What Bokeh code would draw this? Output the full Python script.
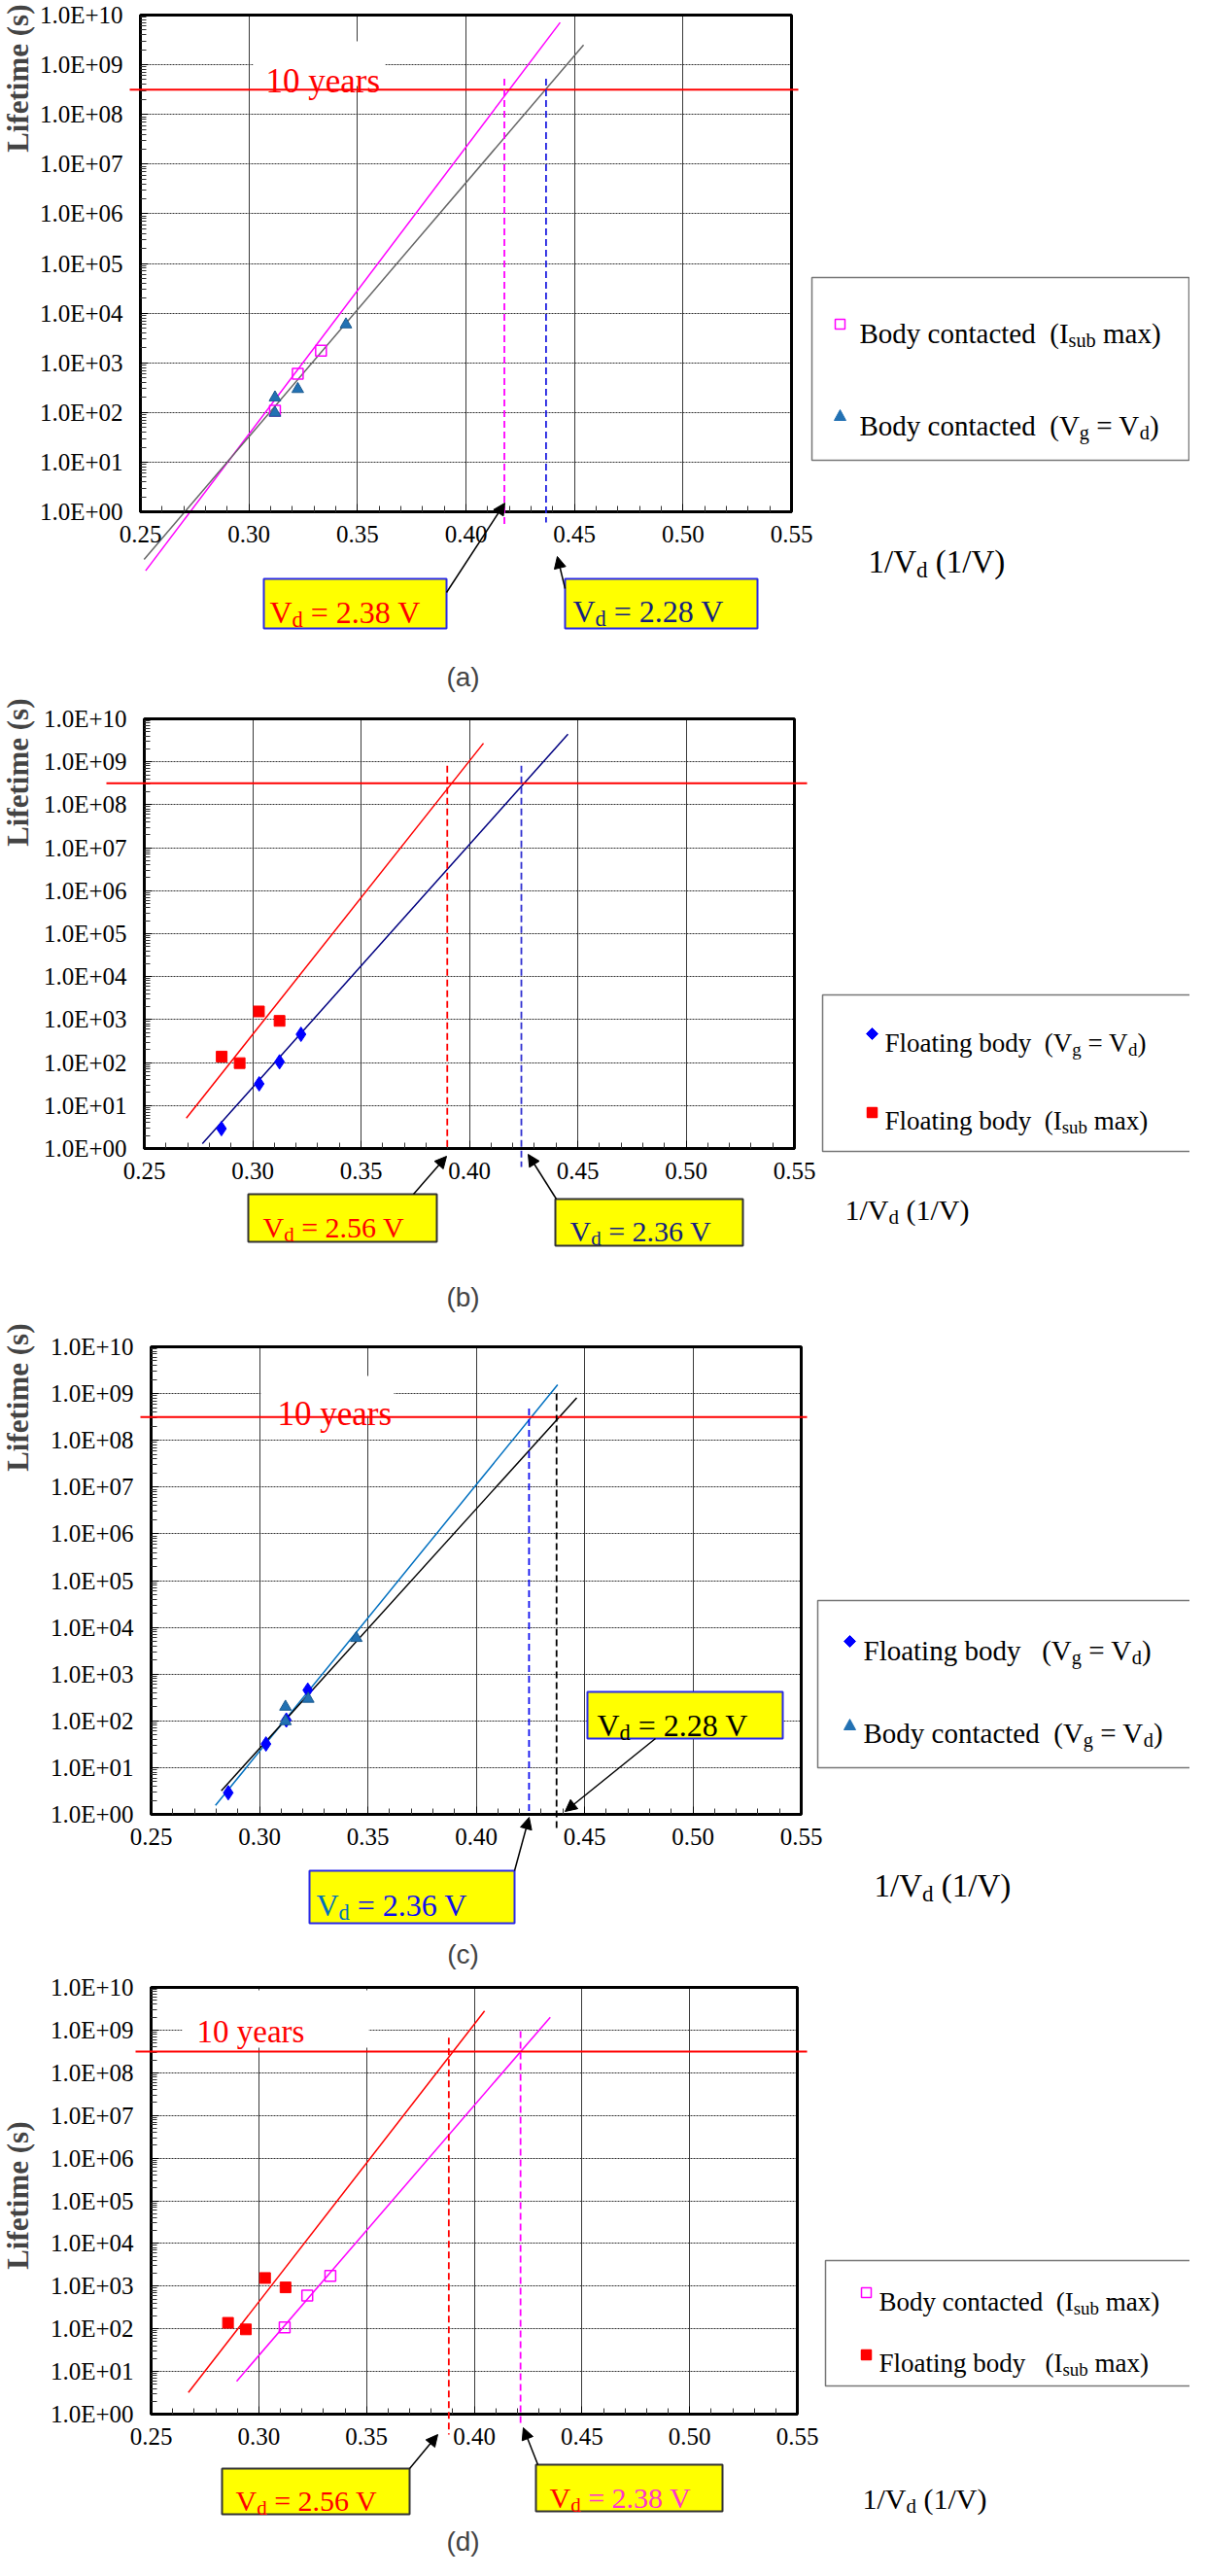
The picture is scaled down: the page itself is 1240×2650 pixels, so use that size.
import math
import re

from bokeh.plotting import figure
from bokeh.layouts import column
from bokeh.models import (Label, Arrow, NormalHead, BoxAnnotation, PolyAnnotation, Grid,
                          LinearAxis, LogAxis, FixedTicker, PrintfTickFormatter)
from bokeh.embed import file_html
from bokeh.resources import INLINE

SERIF = "Liberation Serif"
SANS = "Liberation Sans"

# ---- values: x = 1/Vd (1/V), y = lifetime (s)
BC_ISUB_X = [0.3120, 0.3225, 0.3332]          # body contacted, Isub max
BC_ISUB_Y = [108, 600, 1750]
BC_VG_X = [0.3120, 0.3120, 0.3225, 0.3447]    # body contacted, Vg = Vd
BC_VG_Y = [200, 98, 295, 5900]
FB_VG_X = [0.2856, 0.3030, 0.3124, 0.3223]    # floating body, Vg = Vd
FB_VG_Y = [2.9, 32, 104, 455]
FB_ISUB_X = [0.2857, 0.2940, 0.3029, 0.3124]  # floating body, Isub max
FB_ISUB_Y = [138, 97, 1550, 935]

# extrapolated fit lines as drawn in each panel (end points)
FIT_A_BC_ISUB_X = [0.2524, 0.4434]
FIT_A_BC_ISUB_Y = [0.065, 7.1e9]
FIT_A_BC_VG_X = [0.2517, 0.4542]
FIT_A_BC_VG_Y = [0.11, 2.5e9]
FIT_B_FB_ISUB_X = [0.2694, 0.4065]
FIT_B_FB_ISUB_Y = [5.1, 2.7e9]
FIT_B_FB_VG_X = [0.2768, 0.4455]
FIT_B_FB_VG_Y = [1.3, 4.4e9]
FIT_C_FB_VG_X = [0.2797, 0.4376]
FIT_C_FB_VG_Y = [1.55, 1.55e9]
FIT_C_BC_VG_X = [0.2824, 0.4464]
FIT_C_BC_VG_Y = [3.2, 8.1e8]
FIT_D_FB_ISUB_X = [0.2673, 0.4048]
FIT_D_FB_ISUB_Y = [3.2, 2.8e9]
FIT_D_BC_ISUB_X = [0.2897, 0.4353]
FIT_D_BC_ISUB_Y = [5.9, 2.0e9]

TEN_YEARS = 3.15e8  # s
# 1/Vd where the fits reach ten years (dashed markers) and the labels
CROSS_A = [0.4177, 0.4369]
CROSS_B = [0.3898, 0.4240]
CROSS_C = [0.4244, 0.4371]
CROSS_D = [0.3882, 0.4215]
CROSS_TOP_A = [5.2e8, 5.2e8]
CROSS_TOP_B = [8.1e8, 8.1e8]
CROSS_TOP_C = [4.8e8, 1.0e9]
CROSS_TOP_D = [6.6e8, 9.5e8]
VD_A = ["2.38", "2.28"]
VD_B = ["2.56", "2.36"]
VD_C = ["2.36", "2.28"]
VD_D = ["2.56", "2.38"]

X_TICKS = [0.25, 0.30, 0.35, 0.40, 0.45, 0.50, 0.55]
X_MINOR = [0.26, 0.27, 0.28, 0.29, 0.31, 0.32, 0.33, 0.34, 0.36, 0.37, 0.38, 0.39,
           0.41, 0.42, 0.43, 0.44, 0.46, 0.47, 0.48, 0.49, 0.51, 0.52, 0.53, 0.54]
Y_TICKS = [1e0, 1e1, 1e2, 1e3, 1e4, 1e5, 1e6, 1e7, 1e8, 1e9, 1e10]
Y_TICK_LABELS = ["1.0E+00", "1.0E+01", "1.0E+02", "1.0E+03", "1.0E+04", "1.0E+05",
                 "1.0E+06", "1.0E+07", "1.0E+08", "1.0E+09", "1.0E+10"]
Y_MINOR = [k * 10.0 ** n for n in range(10) for k in range(2, 10)]

# Times advance widths (per 1000 em) for placing sub-scripted pieces
TIMES_W = {" ": 250, "(": 333, ")": 333, "/": 278, "=": 564, ".": 250,
           "B": 667, "F": 556, "I": 333, "V": 722,
           "a": 444, "b": 500, "c": 444, "d": 500, "e": 444, "g": 500, "i": 278,
           "l": 278, "m": 778, "n": 500, "o": 500, "s": 389, "t": 278, "u": 500,
           "x": 500, "y": 500}


def tw(s, size):
    return sum(TIMES_W.get(c, 500) for c in s) * size / 1000.0


# page pixel -> data, from where the plot box of each panel sits on the page
def px_x(g, px):
    return 0.25 + (px - g["L"]) * 0.30 / (g["R"] - g["L"])


def px_y(g, py):
    return 10 ** (10 - (py - g["T"]) * 10.0 / (g["B"] - g["T"]))


def base(g):
    # the frame fills the whole panel; axes are pinned to the plot box
    p = figure(width=1224, height=g["bottom"] - g["top"],
               x_range=(px_x(g, 8), px_x(g, 1232)),
               y_range=(px_y(g, g["bottom"]), px_y(g, g["top"])),
               y_axis_type="log", x_axis_location=None, y_axis_location=None,
               min_border=0, output_backend="svg", toolbar_location=None)
    p.outline_line_color = None
    for gr in p.grid:
        gr.visible = False
    xt = FixedTicker(ticks=X_TICKS, minor_ticks=X_MINOR)
    yt = FixedTicker(ticks=Y_TICKS, minor_ticks=Y_MINOR)
    p.add_layout(Grid(dimension=0, ticker=xt, bounds=(0.25, 0.55), cross_bounds=(1, 1e10),
                      grid_line_color="#3a3a3a", grid_line_width=1))
    p.add_layout(Grid(dimension=1, ticker=yt, bounds=(1, 1e10), cross_bounds=(0.25, 0.55),
                      grid_line_color="#333333", grid_line_width=1.2, grid_line_dash="2 1"))
    xa = LinearAxis(ticker=xt, formatter=PrintfTickFormatter(format="%.2f"),
                    fixed_location=1, bounds=(0.25, 0.55))
    ya = LogAxis(ticker=yt, fixed_location=0.25, bounds=(1, 1e10),
                 major_label_overrides=dict(zip(Y_TICKS, Y_TICK_LABELS)))
    for ax in (xa, ya):
        ax.axis_line_width = 3
        ax.axis_line_color = "black"
        ax.major_tick_out = 0
        ax.major_tick_in = 8
        ax.minor_tick_out = 0
        ax.minor_tick_in = 6
        ax.major_tick_line_color = "black"
        ax.minor_tick_line_color = "#333333"
        ax.major_label_text_font = SERIF
        ax.major_label_text_color = "black"
    xa.major_label_text_font_size = "25px"
    ya.major_label_text_font_size = "25px"
    xa.major_label_standoff = 14
    ya.major_label_standoff = 18
    p.add_layout(xa, "below")
    p.add_layout(ya, "left")
    p.quad(left=[0.25], right=[0.55], bottom=[1], top=[1e10], fill_color=None,
           line_color="black", line_width=3)
    return p


def rich(p, g, x, baseline, pieces, size):
    for txt, sub, color in pieces:
        fs = size * 0.7 if sub else size
        yb = baseline + (size * 0.25 if sub else 0)
        for m in re.finditer(r"\S+(?: \S+)*| +", txt):
            s = m.group(0)
            if s.strip():
                p.add_layout(Label(x=px_x(g, x), y=px_y(g, yb), text=s, text_font=SERIF,
                                   text_font_size="%.1fpx" % fs, text_color=color,
                                   text_baseline="alphabetic", text_align="left"))
            x += tw(s, fs)


def frame_text(p, g, title_x, title_base, title_size, life_top, tag, tag_y):
    rich(p, g, title_x, title_base,
         [("1/V", False, "black"), ("d", True, "black"), (" (1/V)", False, "black")], title_size)
    p.add_layout(Label(x=px_x(g, 43), y=px_y(g, life_top), text="Lifetime (s)",
                       angle=math.pi / 2, text_align="right", text_baseline="bottom",
                       text_font=SERIF, text_font_style="bold", text_font_size="31px"))
    p.add_layout(Label(x=px_x(g, 484), y=px_y(g, tag_y), text=tag, text_align="center",
                       text_baseline="middle", text_font=SANS, text_font_size="28px"))


def ten_years(p, g, x0, x1, box=None, text_at=None, size=35):
    if box is not None:
        p.add_layout(BoxAnnotation(left=px_x(g, box[0]), right=px_x(g, box[2]),
                                   top=px_y(g, box[1]), bottom=px_y(g, box[3]),
                                   fill_color="white", fill_alpha=1, line_color=None))
    p.add_layout(Arrow(end=None, x_start=px_x(g, x0), y_start=TEN_YEARS,
                       x_end=px_x(g, x1), y_end=TEN_YEARS, line_color="red", line_width=2))
    if text_at is not None:
        p.add_layout(Label(x=px_x(g, text_at[0]), y=px_y(g, text_at[1]), text="10 years",
                           text_font=SERIF, text_font_size="%dpx" % size, text_color="red",
                           text_baseline="alphabetic"))


def dashed(p, g, x, y_top, py_bottom, color):
    p.add_layout(Arrow(end=None, x_start=x, y_start=y_top, x_end=x, y_end=px_y(g, py_bottom),
                       line_color=color, line_width=1.8, line_dash="7 4"))


def vd_box(p, g, rect, border, tx, tb, size, vd, c_v, c_rest):
    p.add_layout(BoxAnnotation(left=px_x(g, rect[0]), right=px_x(g, rect[2]),
                               top=px_y(g, rect[1]), bottom=px_y(g, rect[3]),
                               fill_color="#FFFF00", fill_alpha=1,
                               line_color=border, line_width=2, line_alpha=1))
    rich(p, g, tx, tb, [("V", False, c_v), ("d", True, c_v), (" = %s V" % vd, False, c_rest)], size)


def pointer(p, g, x0, y0, x1, y1):
    p.add_layout(Arrow(end=NormalHead(size=12, fill_color="black", line_color="black", line_width=1),
                       x_start=px_x(g, x0), y_start=px_y(g, y0),
                       x_end=px_x(g, x1), y_end=px_y(g, y1),
                       line_color="black", line_width=1.5))


def legend_frame(p, g, rect):
    p.add_layout(BoxAnnotation(left=px_x(g, rect[0]), right=px_x(g, rect[2]),
                               top=px_y(g, rect[1]), bottom=px_y(g, rect[3]),
                               fill_color="white", fill_alpha=1,
                               line_color="#777777", line_width=1.5, line_alpha=1))


def key(p, g, kind, cx, cy):
    if kind in ("open", "red"):
        h = 5
        p.add_layout(BoxAnnotation(left=px_x(g, cx - h), right=px_x(g, cx + h),
                                   top=px_y(g, cy - h), bottom=px_y(g, cy + h),
                                   fill_color="red" if kind == "red" else "white", fill_alpha=1,
                                   line_color="red" if kind == "red" else "magenta",
                                   line_width=1.5, line_alpha=1))
        return
    if kind == "tri":
        pts = [(cx - 6, cy + 5), (cx + 6, cy + 5), (cx, cy - 6)]
        col = "#2271B3"
    else:
        pts = [(cx, cy - 6), (cx + 6, cy), (cx, cy + 6), (cx - 6, cy)]
        col = "#0000FF"
    p.add_layout(PolyAnnotation(xs=[px_x(g, a) for a, b in pts], ys=[px_y(g, b) for a, b in pts],
                                fill_color=col, fill_alpha=1, line_color=col, line_alpha=1))


def bc_isub(p):
    p.scatter(BC_ISUB_X, BC_ISUB_Y, marker="square", size=11, fill_color=None,
              line_color="magenta", line_width=1.5)


def bc_vg(p):
    p.scatter(BC_VG_X, BC_VG_Y, marker="triangle", size=12, fill_color="#2271B3",
              line_color="#1a5a8f", line_width=1)


def fb_vg(p):
    p.scatter(FB_VG_X, FB_VG_Y, marker="diamond", size=15, fill_color="#0000FF",
              line_color="#0000FF")


def fb_isub(p):
    p.scatter(FB_ISUB_X, FB_ISUB_Y, marker="square", size=11, fill_color="red",
              line_color="red")


NAVY = "#141E82"
BLACK = "black"

# ---------------- panel (a)
ga = dict(top=8, bottom=724, L=152, R=822, T=23, B=534)
pa = base(ga)
pa.line(FIT_A_BC_ISUB_X, FIT_A_BC_ISUB_Y, line_color="magenta", line_width=1.5)
pa.line(FIT_A_BC_VG_X, FIT_A_BC_VG_Y, line_color="#666666", line_width=1.5)
bc_isub(pa)
bc_vg(pa)
ten_years(pa, ga, 141, 829, box=(268, 50, 404, 96), text_at=(281, 91), size=35)
dashed(pa, ga, CROSS_A[0], CROSS_TOP_A[0], 550, "magenta")
dashed(pa, ga, CROSS_A[1], CROSS_TOP_A[1], 545, "#2020E0")
vd_box(pa, ga, (279, 603, 467, 654), "#2a2ae6", 285, 637, 32, VD_A[0], "red", "red")
vd_box(pa, ga, (589, 603, 787, 654), "#2a2ae6", 597, 636, 32, VD_A[1], NAVY, NAVY)
pointer(pa, ga, 467, 617, 527, 525)
pointer(pa, ga, 589, 613, 581, 580)
legend_frame(pa, ga, (843, 293, 1231, 481))
key(pa, ga, "open", 872, 341)
rich(pa, ga, 892, 350, [("Body contacted  (I", False, BLACK), ("sub", True, BLACK),
                        (" max)", False, BLACK)], 29)
key(pa, ga, "tri", 872, 435)
rich(pa, ga, 892, 445, [("Body contacted  (V", False, BLACK), ("g", True, BLACK),
                        (" = V", False, BLACK), ("d", True, BLACK), (")", False, BLACK)], 29)
frame_text(pa, ga, 901, 585, 33, 12, "(a)", 704)

# ---------------- panel (b)
gb = dict(top=724, bottom=1366, L=156, R=825, T=747, B=1189)
pb = base(gb)
pb.line(FIT_B_FB_ISUB_X, FIT_B_FB_ISUB_Y, line_color="red", line_width=1.5)
pb.line(FIT_B_FB_VG_X, FIT_B_FB_VG_Y, line_color="#000080", line_width=1.5)
fb_isub(pb)
fb_vg(pb)
ten_years(pb, gb, 117, 838)
dashed(pb, gb, CROSS_B[0], CROSS_TOP_B[0], 1189, "red")
dashed(pb, gb, CROSS_B[1], CROSS_TOP_B[1], 1208, "#3030D0")
vd_box(pb, gb, (263, 1236, 457, 1285), "#333333", 278, 1270, 30, VD_B[0], "red", "red")
vd_box(pb, gb, (579, 1241, 772, 1289), "#333333", 594, 1274, 30, VD_B[1], NAVY, NAVY)
pointer(pb, gb, 433, 1236, 467, 1197)
pointer(pb, gb, 580, 1241, 551, 1195)
legend_frame(pb, gb, (854, 1031, 1237, 1192))
key(pb, gb, "dia", 905, 1071)
rich(pb, gb, 918, 1080, [("Floating body  (V", False, BLACK), ("g", True, BLACK),
                         (" = V", False, BLACK), ("d", True, BLACK), (")", False, BLACK)], 27)
key(pb, gb, "red", 905, 1152)
rich(pb, gb, 918, 1160, [("Floating body  (I", False, BLACK), ("sub", True, BLACK),
                         (" max)", False, BLACK)], 27)
frame_text(pb, gb, 877, 1252, 30, 726, "(b)", 1342)

# ---------------- panel (c)
gc = dict(top=1366, bottom=2036, L=163, R=832, T=1393, B=1874)
pc = base(gc)
pc.line(FIT_C_FB_VG_X, FIT_C_FB_VG_Y, line_color="#0070C0", line_width=1.5)
pc.line(FIT_C_BC_VG_X, FIT_C_BC_VG_Y, line_color="black", line_width=1.5)
fb_vg(pc)
bc_vg(pc)
ten_years(pc, gc, 152, 838, box=(276, 1423, 413, 1464), text_at=(293, 1462), size=35)
dashed(pc, gc, CROSS_C[0], CROSS_TOP_C[0], 1874, "#1010EE")
dashed(pc, gc, CROSS_C[1], CROSS_TOP_C[1], 1892, "black")
vd_box(pc, gc, (326, 1932, 537, 1986), "#2a2ae6", 333, 1967, 32, VD_C[0], "#0070C0", "#1010EE")
vd_box(pc, gc, (612, 1748, 813, 1796), "#2a2ae6", 622, 1782, 32, VD_C[1], BLACK, BLACK)
pointer(pc, gc, 537, 1932, 552, 1877)
pointer(pc, gc, 682, 1796, 589, 1871)
legend_frame(pc, gc, (849, 1654, 1237, 1826))
key(pc, gc, "dia", 882, 1696)
rich(pc, gc, 896, 1705, [("Floating body   (V", False, BLACK), ("g", True, BLACK),
                         (" = V", False, BLACK), ("d", True, BLACK), (")", False, BLACK)], 29)
key(pc, gc, "tri", 882, 1782)
rich(pc, gc, 896, 1790, [("Body contacted  (V", False, BLACK), ("g", True, BLACK),
                         (" = V", False, BLACK), ("d", True, BLACK), (")", False, BLACK)], 29)
frame_text(pc, gc, 907, 1947, 33, 1369, "(c)", 2018)

# ---------------- panel (d)
gd = dict(top=2036, bottom=2642, L=163, R=828, T=2052, B=2491)
pd_ = base(gd)
pd_.line(FIT_D_FB_ISUB_X, FIT_D_FB_ISUB_Y, line_color="red", line_width=1.5)
pd_.line(FIT_D_BC_ISUB_X, FIT_D_BC_ISUB_Y, line_color="magenta", line_width=1.5)
fb_isub(pd_)
bc_isub(pd_)
ten_years(pd_, gd, 147, 838, box=(195, 2055, 387, 2114), text_at=(210, 2097), size=33)
dashed(pd_, gd, CROSS_D[0], CROSS_TOP_D[0], 2512, "red")
dashed(pd_, gd, CROSS_D[1], CROSS_TOP_D[1], 2503, "magenta")
vd_box(pd_, gd, (236, 2547, 429, 2594), "#333333", 250, 2580, 30, VD_D[0], "red", "red")
vd_box(pd_, gd, (559, 2543, 751, 2591), "#333333", 573, 2577, 30, VD_D[1], "red", "#FF33CC")
pointer(pd_, gd, 429, 2547, 458, 2512)
pointer(pd_, gd, 561, 2543, 546, 2505)
legend_frame(pd_, gd, (857, 2333, 1237, 2462))
key(pd_, gd, "open", 899, 2366)
rich(pd_, gd, 912, 2375, [("Body contacted  (I", False, BLACK), ("sub", True, BLACK),
                          (" max)", False, BLACK)], 27)
key(pd_, gd, "red", 899, 2430)
rich(pd_, gd, 912, 2438, [("Floating body   (I", False, BLACK), ("sub", True, BLACK),
                          (" max)", False, BLACK)], 27)
frame_text(pd_, gd, 895, 2578, 30, 2190, "(d)", 2622)

page = column(pa, pb, pc, pd_)
open("out.html", "w").write(file_html(page, INLINE))
